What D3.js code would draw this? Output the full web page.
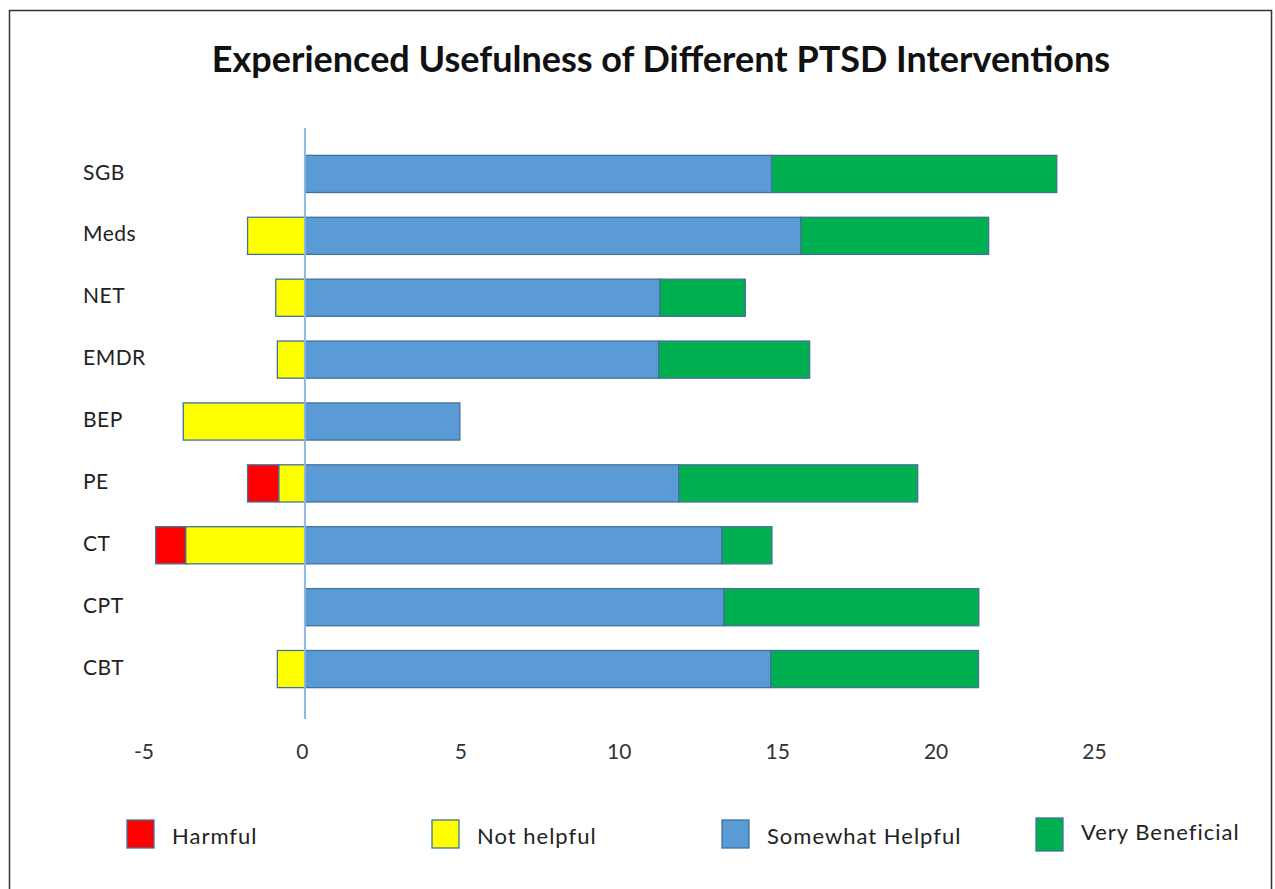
<!DOCTYPE html>
<html>
<head>
<meta charset="utf-8">
<script src="https://d3js.org/d3.v7.min.js"></script>
<style>
  body { margin: 0; background: #ffffff; }
  text { font-family: Lato, "Open Sans", sans-serif; fill: #222222; }
  text.chart-title { font-size: 36px; font-weight: 700; fill: #111111; }
  text.cat-label { font-size: 21px; letter-spacing: 0.5px; fill: #222222; }
  .x-axis text { font-size: 21px; fill: #333333; }
  text.legend-label { font-size: 22px; letter-spacing: 1px; fill: #222222; }
</style>
</head>
<body>
<div id="viz"></div>
<script>
  // data
  const categories = ["SGB", "Meds", "NET", "EMDR", "BEP", "PE", "CT", "CPT", "CBT"];
  const harmful    = [0,    0,    0,    0,    0,    0.99, 0.95, 0,    0];
  const notHelpful = [0,    1.81, 0.92, 0.87, 3.84, 0.82, 3.76, 0,    0.87];
  const somewhat   = [14.73, 15.65, 11.2, 11.17, 4.89, 11.8, 13.16, 13.23, 14.7];
  const veryBenef  = [9.0,  5.93, 2.7,  4.76, 0,    7.54, 1.58, 8.04, 6.56];
  const xTicks = [-5, 0, 5, 10, 15, 20, 25];
  const seriesNames = ["Harmful", "Not helpful", "Somewhat Helpful", "Very Beneficial"];
  const seriesColors = ["#ff0000", "#ffff00", "#5b9bd5", "#00b050"];

  const W = 1275, H = 889;
  const svg = d3.select("#viz").append("svg")
    .attr("width", W)
    .attr("height", H);

  // outer frame
  svg.append("path")
    .attr("d", `M9.5,${H} L9.5,10.5 L1271.5,10.5 L1271.5,${H}`)
    .attr("fill", "none")
    .attr("stroke", "#333333")
    .attr("stroke-width", 1.5);

  svg.append("text")
    .attr("class", "chart-title")
    .attr("x", 661)
    .attr("y", 72)
    .attr("text-anchor", "middle")
    .text("Experienced Usefulness of Different PTSD Interventions");

  const x = d3.scaleLinear().domain([-5, 25]).range([146.5, 1097]);
  const y = d3.scaleBand().domain(categories).range([143, 700])
    .paddingInner(0.4).paddingOuter(0.2);

  // x axis (labels only)
  const xAxis = svg.append("g")
    .attr("class", "x-axis")
    .attr("transform", "translate(-3, 739)")
    .call(d3.axisBottom(x).tickValues(xTicks).tickSize(0).tickPadding(0).tickFormat(d => String(d)));
  xAxis.select(".domain").remove();
  xAxis.selectAll("text").attr("dy", "0.95em");

  // category labels
  svg.selectAll("text.cat-label")
    .data(categories)
    .join("text")
    .attr("class", "cat-label")
    .attr("x", 83)
    .attr("y", d => y(d) + y.bandwidth() / 2 - 2)
    .attr("dy", "0.36em")
    .text(d => d);

  // build segments
  const segs = [];
  categories.forEach((c, i) => {
    const nh = notHelpful[i], hf = harmful[i];
    if (hf > 0) segs.push({cat: c, k: 0, x0: -(nh + hf), x1: -nh});
    if (nh > 0) segs.push({cat: c, k: 1, x0: -nh, x1: 0});
    if (somewhat[i] > 0) segs.push({cat: c, k: 2, x0: 0, x1: somewhat[i]});
    if (veryBenef[i] > 0) segs.push({cat: c, k: 3, x0: somewhat[i], x1: somewhat[i] + veryBenef[i]});
  });

  svg.selectAll("rect.seg")
    .data(segs)
    .join("rect")
    .attr("class", "seg")
    .attr("x", d => x(d.x0))
    .attr("y", d => y(d.cat))
    .attr("width", d => x(d.x1) - x(d.x0))
    .attr("height", y.bandwidth())
    .attr("fill", d => seriesColors[d.k])
    .attr("stroke", "#41719c")
    .attr("stroke-width", 1.3);

  // zero line
  svg.append("line")
    .attr("x1", x(0)).attr("x2", x(0))
    .attr("y1", 128).attr("y2", 719)
    .attr("stroke", "#8db6e0")
    .attr("stroke-width", 2);

  // legend
  const legendX = [127, 432, 722, 1036];
  const legend = svg.selectAll("g.legend")
    .data(seriesNames)
    .join("g")
    .attr("class", "legend")
    .attr("transform", (d, i) => `translate(${legendX[i]}, ${i === 3 ? 818 : 820})`);
  legend.append("rect")
    .attr("width", 27)
    .attr("height", (d, i) => i === 3 ? 33 : 28)
    .attr("fill", (d, i) => seriesColors[i])
    .attr("stroke", "#41719c")
    .attr("stroke-width", 1.3);
  legend.append("text")
    .attr("class", "legend-label")
    .attr("x", 45)
    .attr("y", (d, i) => i === 3 ? 14 : 16)
    .attr("dy", "0.36em")
    .text(d => d);
</script>
</body>
</html>
